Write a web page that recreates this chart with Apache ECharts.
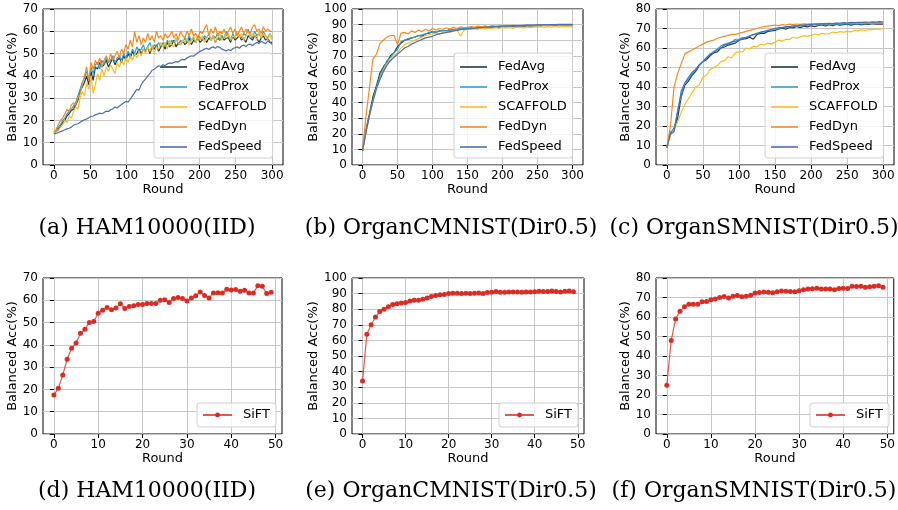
<!DOCTYPE html>
<html><head><meta charset="utf-8">
<script src="https://cdn.jsdelivr.net/npm/echarts@6/dist/echarts.min.js"></script>
<style>html,body{margin:0;padding:0;background:#fff}#c{width:898px;height:510px}</style>
</head><body><div id="c"></div><script>
// ---------- data ----------
const methods = ['FedAvg','FedProx','SCAFFOLD','FedDyn','FedSpeed'];
const rounds3 = [0,3,6,9,12,15,18,21,24,27,30,33,36,39,42,45,48,51,54,57,60,63,66,69,72,75,78,81,84,87,90,93,96,99,102,105,108,111,114,117,120,123,126,129,132,135,138,141,144,147,150,153,156,159,162,165,168,171,174,177,180,183,186,189,192,195,198,201,204,207,210,213,216,219,222,225,228,231,234,237,240,243,246,249,252,255,258,261,264,267,270,273,276,279,282,285,288,291,294,297,300];
const rounds5 = [0,5,10,15,20,25,30,35,40,45,50,55,60,65,70,75,80,85,90,95,100,105,110,115,120,125,130,135,140,145,150,155,160,165,170,175,180,185,190,195,200,205,210,215,220,225,230,235,240,245,250,255,260,265,270,275,280,285,290,295,300];
const rounds50 = [0,1,2,3,4,5,6,7,8,9,10,11,12,13,14,15,16,17,18,19,20,21,22,23,24,25,26,27,28,29,30,31,32,33,34,35,36,37,38,39,40,41,42,43,44,45,46,47,48,49];
const xTicks300 = [0,50,100,150,200,250,300];
const xTicks50 = [0,10,20,30,40,50];

// (a) HAM10000(IID)  -- every 3 rounds
const hamFedAvg = [14.5,15,16,17.5,19,20,22,23,24.5,25, 27,29,33,35,37,40,36,42,38,44, 43,46,44,45,47,44,46,48,45,47,
  48,46,49,47,50,48,51,49,50,52, 50,52,51,53,50,53,52,54,51,53, 54,52,55,53,54,56,53,55,54,56,
  54,55,57,54,56,55,57,55,56,57, 55,57,56,58,55,57,56,58,56,57, 57,55,58,56,57,58,56,57,55,58,
  57,56,58,57,55,57,58,56,57,55, 55];
const hamFedProx = [14.8,15.5,17,18,20,21,23,24,25,26.5, 28,31,34,37,39,42,38,44,41,45, 46,43,47,45,48,46,47,49,46,48,
  49,47,50,48,51,49,52,50,53,51, 52,54,51,53,55,52,54,53,55,53, 55,53,56,54,56,55,57,54,56,55,
  57,55,58,56,57,55,58,57,56,58, 57,59,56,58,57,59,56,58,57,60, 58,56,59,57,60,58,57,59,58,61,
  58,57,60,58,59,57,60,58,57,59, 57];
const hamScaffold = [14.5,15,15.5,17,18,20,19,22,21,24, 26,25,30,33,31,37,34,40,32,36, 41,38,43,40,44,42,45,43,41,46,
  44,47,45,48,46,49,47,50,48,51, 49,52,50,53,51,54,50,53,52,55, 53,55,52,56,54,53,57,55,54,56,
  55,57,54,56,58,55,57,56,58,55, 57,59,56,58,55,57,59,56,58,57, 59,56,58,57,60,57,59,56,58,60,
  57,59,58,56,60,57,59,58,56,59, 56];
const hamFedDyn = [15,16,18,20,21,23,25,24,27,28, 27,30,32,36,40,44,38,46,43,47, 45,48,44,47,49,46,50,47,49,51,
  48,52,50,54,52,56,53,60,55,58, 54,57,55,59,56,58,55,60,57,58, 56,59,57,58,60,57,59,56,60,58,
  57,60,58,61,58,59,57,60,59,61, 63,58,61,59,62,58,60,59,61,58, 60,62,59,61,58,60,62,59,61,60,
  59,62,63,60,61,59,62,60,61,60, 60];
const hamFedSpeed = [14,14.2,14.6,15,15.3,15.8,16.2,16.5,17,17.8, 18.3,18.5,19.2,19.8,20.3,20.6,21.2,21.8,22,22.5,
  22.8,23.3,23,23.6,24.2,24,24.8,25.2,26,25.6, 26.4,27.2,27.8,28.6,28.2,29.5,31,32.5,34,33.6,
  36,37.5,38.5,40,41,42.5,43,43.8,44.5,44.2, 45,44.6,45.4,45.8,45.6,46,46.4,46.2,47,47.4,
  47.2,48,48.6,49,48.8,49.6,50.4,51,51.5,52, 52.4,51.8,52.6,53,52.4,53.2,52.8,52,51.6,51.2,
  51.8,51.4,52.2,52.6,53,52.4,53.4,53.8,53.2,54, 54.2,53.6,54.4,55,54.6,55.4,55,54.4,55.6,55.2, 54];

// (b) OrganCMNIST(Dir0.5)  -- every 5 rounds
const ocFedAvg   = [9,23,33,44,51,59,63,66,70,72, 76,78,80,80.5,81.5,82,83,82.5,84,84.5, 85.5,85,86,86.3,85.8,86.8,86.5,87.2,87.4,87, 87.7,87.5,88,87.8,88.2,88.4,88,88.5,88.6,88.3, 88.8,88.6,89,88.7,89.1,89.3,88.9,89.2,89.4,89.1, 89.5,89.2,89.6,89.4,89.7,89.5,89.8,89.5,89.7,89.9, 89.6];
const ocFedProx  = [9,21,32,42,50,57,62,67,69,72, 74,79,80,81,81.5,82,83,83.5,84,85, 85.5,85.3,86,86.2,86,86.8,87,86.9,87.4,87.6, 87.6,88,87.8,88.2,88.4,88.1,88.5,88.6,88.4,88.8, 88.9,88.7,89.1,89,89.3,89.1,89.4,89.2,89.5,89.4, 89.6,89.4,89.7,89.5,89.8,89.6,89.9,89.7,89.8,89.6, 89.7];
const ocScaffold = [9,22,31,41,49,55,61,65,68,70, 72,75,77,78,79,80,81,82,83,83.5, 84,84.5,84,85,85.5,85,86,86.5,82.5,86.5, 87,86.8,87.2,87,87.5,87.3,87.8,87.5,88,87.6, 88,87.8,88.2,87.6,88.3,88,87.9,88.4,88.1,88.5, 88.3,88.6,88.2,88.7,88.4,88.8,88.5,88.6,88.9,88.7, 88.6];
const ocFedDyn   = [10,31,50,68,71,78,80,82,83,83, 77,84.5,85,84,86,85,86.5,85.5,87,86, 87.5,86.5,87.5,87,88,87.2,88.2,87.5,88.5,88, 88.3,88.8,88.2,89,88.5,89.2,88.6,89.4,88.8,89.2, 89,89.5,89,89.6,89.1,89.4,89.2,89.7,89.3,89.6, 89.4,89.8,89.3,89.7,89.5,90,89.4,89.8,89.6,90, 89.8];
const ocFedSpeed = [9,21,32,41,49,55,60,64,67,69, 71,73,75,76,77.5,78.5,79.5,80.5,81.5,82, 82.5,83.5,84,84.5,85,85.5,86,86.3,86.7,87, 87.2,87.5,87.7,88,88.1,88.3,88.5,88.6,88.8,88.9, 89,89.1,89.2,89.3,89.4,89.4,89.5,89.6,89.6,89.7, 89.8,89.8,89.9,89.9,90,90,90.1,90.1,90.2,90.2, 90.2];

// (c) OrganSMNIST(Dir0.5)  -- every 5 rounds
const osFedAvg   = [9,16,19,24,35,41,43,46,48,51, 53,54,56,57.5,58,60,60.5,61.5,62,62.5, 64,64.5,64.8,65.5,64.5,67,67.5,67.5,68.5,68.8, 69,69.8,70.2,69.6,70.5,70.3,71,70.4,71.2,70.8, 71.5,70.9,71.6,71.8,71.3,72,71.5,72.1,71.7,72, 72.2,71.7,72.1,72.3,71.9,72.4,72.1,72.5,72.2,72.3, 72.2];
const osFedProx  = [9,17,18,28,36,42,44,47,49,51, 53,55,57,58,59.5,61,62,62.5,63,64.5, 64.5,65.3,65.5,66.2,66.8,67.5,68,68.3,69,69.2, 69.5,70,70.4,70.5,70.9,71,71.3,71.2,71.5,71.7, 71.7,71.9,72,71.8,72.2,72.2,72,72.4,72.2,72.4, 72.3,72.6,72.4,72.6,72.3,72.7,72.5,72.6,72.9,72.6, 72.7];
const osScaffold = [9,15,18,22,27,31,34,37,40,41, 45,46,49,50,51,53,53.5,55.5,55,57.5, 58,58,60,59.5,61,60.5,62,61.5,62.5,62, 63,64,63.5,64.5,64.3,65.5,65,65.7,66.3,66, 66.5,67.2,66.7,67.5,67.2,67.3,68.2,67.8,68.4,68.1, 68.5,68.3,69,68.8,69.3,69,69.5,69.4,69.8,69.6, 70];
const osFedDyn   = [9,20,40,47,52,57,58,59,60,61, 62,63,63.5,64,65,65.5,66,66.5,67,67, 67.5,68,68.5,69,69.5,70,70.5,71,71.2,71.5, 71.8,71.5,72,71.8,72.2,72,72.3,72.1,72.4,72.2, 72.5,72.3,72.6,72.4,72.7,72.5,72.4,72.7,72.6,72.8, 72.6,72.9,72.7,72.8,72.6,73,72.8,72.9,72.7,73, 72.9];
const osFedSpeed = [9,16,17,27,38,42,45,47.5,49,51.5, 53,55,56.5,58,59,60,61.5,62,63,63.5, 64,64.8,65.5,66,67,67.3,68.2,68.5,69,69.6, 70,70.4,70.5,71,71,71.4,71.3,71.7,71.7,72, 72,72.3,72.2,72.5,72.4,72.7,72.5,72.8,72.7,73, 72.8,73.1,73,73.2,73.1,73.3,73.2,73.4,73.3,73.5, 73.3];

// (d)(e)(f) SiFT
const siftHam = [17.5,20.5,26.5,33.5,38.5,40.8,45.2,47,50,50.5, 54.2,55.5,56.8,55.8,56.5,58.5,56.3,57.2,57.6,58.1, 58.1,58.6,58.6,58.6,60,60.2,59,60.8,61.3,60.8, 59.7,61,62,63.7,62.2,61,63.3,63.4,63.3,65, 64.6,64.8,64,64.5,63.3,63.3,66.5,66.3,63,63.6];
const siftOC  = [34,64,70,75,78.5,80,81.5,83,83.5,84, 84.3,85.2,85.7,85.8,86.3,87.2,88.2,88.8,89.3,89.5, 90,90.2,90.2,90,90.2,90,90.2,90.4,90.1,90.7, 90.8,91.3,90.8,90.8,91.1,91,91.1,90.8,91,91.1, 91.2,91.5,91.3,91.4,91.6,91.4,91.1,91.5,91.6,91.2];
const siftOS  = [25,48,59,63,65.2,66.5,66.5,66.5,67.8,68, 68.8,69.2,70,70.5,69.8,70.6,71,70.4,70.6,71.2, 72.3,72.6,72.8,72.7,72.5,72.9,73.3,73.2,73.1,73, 73.5,74,74.3,74.5,74.8,74.3,74.3,74.3,74,74.6, 74.8,74.6,75.8,75.6,75.8,75.2,75.5,75.8,76,75.2];

const captions = ['(a) HAM10000(IID)','(b) OrganCMNIST(Dir0.5)','(c) OrganSMNIST(Dir0.5)',
                  '(d) HAM10000(IID)','(e) OrganCMNIST(Dir0.5)','(f) OrganSMNIST(Dir0.5)'];
const yMax = [70,100,80,70,100,80];

// ---------- layout ----------
const colors = ['#1b3a4e','#2ba1cf','#fbbc22','#f7891c','#4a6eb6'];
const grids = [
  {left:43, top:9, width:240, height:156},
  {left:352,top:9, width:231, height:156},
  {left:656,top:9, width:238, height:156},
  {left:43, top:278,width:239, height:156},
  {left:352,top:278,width:232, height:156},
  {left:656,top:278,width:239, height:156}
];
const captionX = [147, 451, 754, 147, 451, 754];
const FONT = 'DejaVu Sans';
const topData = [
  [hamFedAvg,hamFedProx,hamScaffold,hamFedDyn,hamFedSpeed],
  [ocFedAvg,ocFedProx,ocScaffold,ocFedDyn,ocFedSpeed],
  [osFedAvg,osFedProx,osScaffold,osFedDyn,osFedSpeed]
];
const topRounds = [rounds3, rounds5, rounds5];
const siftData = [siftHam, siftOC, siftOS];

const xAxes = [], yAxes = [], series = [], legends = [], graphics = [];
grids.forEach((g, i) => {
  const isTop = i < 3;
  const ticks = isTop ? xTicks300 : xTicks50;
  xAxes.push({
    type:'value', gridIndex:i,
    min: isTop ? -15 : -2.45, max: isTop ? 315 : 51.45,
    name:'Round', nameLocation:'middle', nameGap:16,
    nameTextStyle:{fontFamily:FONT, fontSize:13, color:'#000'},
    axisLine:{show:false},
    axisTick:{show:true, length:4, inside:false, customValues:ticks, lineStyle:{color:'#000', width:1}},
    axisLabel:{customValues:ticks, fontFamily:FONT, fontSize:12, color:'#000', margin:5},
    splitLine:{show:true, lineStyle:{color:'#c6c6c6', width:1}}
  });
  yAxes.push({
    type:'value', gridIndex:i, min:0, max:yMax[i], interval:10,
    name:'Balanced Acc(%)', nameLocation:'middle', nameGap:(i===1 || i===4) ? 27 : 22,
    nameTextStyle:{fontFamily:FONT, fontSize:13, color:'#000'},
    axisLine:{show:false},
    axisTick:{show:true, length:4, lineStyle:{color:'#000', width:1}},
    axisLabel:{fontFamily:FONT, fontSize:12, color:'#000', margin:5},
    splitLine:{show:true, lineStyle:{color:'#c6c6c6', width:1}}
  });
  graphics.push({type:'text', x:captionX[i], y: isTop ? 228 : 491,
    style:{text:captions[i], font:'22px "DejaVu Serif"', fill:'#000', textAlign:'center', textVerticalAlign:'middle'}});
  if (isTop) {
    const rr = topRounds[i];
    methods.forEach((m, k) => {
      series.push({
        type:'line', name:m, xAxisIndex:i, yAxisIndex:i,
        data: rr.map((r, j) => [r, topData[i][k][j]]),
        symbol:'none', showSymbol:false,
        lineStyle:{color:colors[k], width:1.2}, itemStyle:{color:colors[k]},
        z: 2 + k, animation:false
      });
    });
    legends.push({
      data: methods.map(m => ({name:m, icon:'rect'})), orient:'vertical',
      left: g.left + g.width - 129, top: 53,
      itemWidth:27, itemHeight:1.6, itemGap:6,
      padding:[7,6,4,6],
      backgroundColor:'rgba(255,255,255,0.8)', borderColor:'#d0d0d0', borderWidth:1, borderRadius:3,
      textStyle:{fontFamily:FONT, fontSize:13, lineHeight:14, color:'#000', padding:[0,0,0,6]},
      selectedMode:false
    });
  } else {
    const d = siftData[i-3];
    series.push({
      type:'line', name:'SiFT', xAxisIndex:i, yAxisIndex:i,
      data: rounds50.map((r, j) => [r, d[j]]),
      symbol:'circle', symbolSize:5, showSymbol:true,
      lineStyle:{color:'rgba(222,45,35,0.8)', width:1.2},
      itemStyle:{color:'#dc2b22'},
      z: 3, animation:false
    });
    legends.push({
      data:['SiFT'], orient:'vertical',
      left: g.left + g.width - 85, top: 403,
      itemWidth:29, itemHeight:6,
      padding:[5,6,5,5],
      backgroundColor:'rgba(255,255,255,0.8)', borderColor:'#d0d0d0', borderWidth:1, borderRadius:3,
      textStyle:{fontFamily:FONT, fontSize:13, lineHeight:14, color:'#000', padding:[0,0,0,6]},
      selectedMode:false
    });
  }
});

const chart = echarts.init(document.getElementById('c'), null, {renderer:'canvas'});
chart.setOption({
  animation:false,
  backgroundColor:'#fff',
  grid: grids.map(g => Object.assign({show:true, borderColor:'#000', borderWidth:1, backgroundColor:'transparent', containLabel:false}, g)),
  xAxis: xAxes, yAxis: yAxes, series: series, legend: legends,
  graphic: graphics
});
</script></body></html>
